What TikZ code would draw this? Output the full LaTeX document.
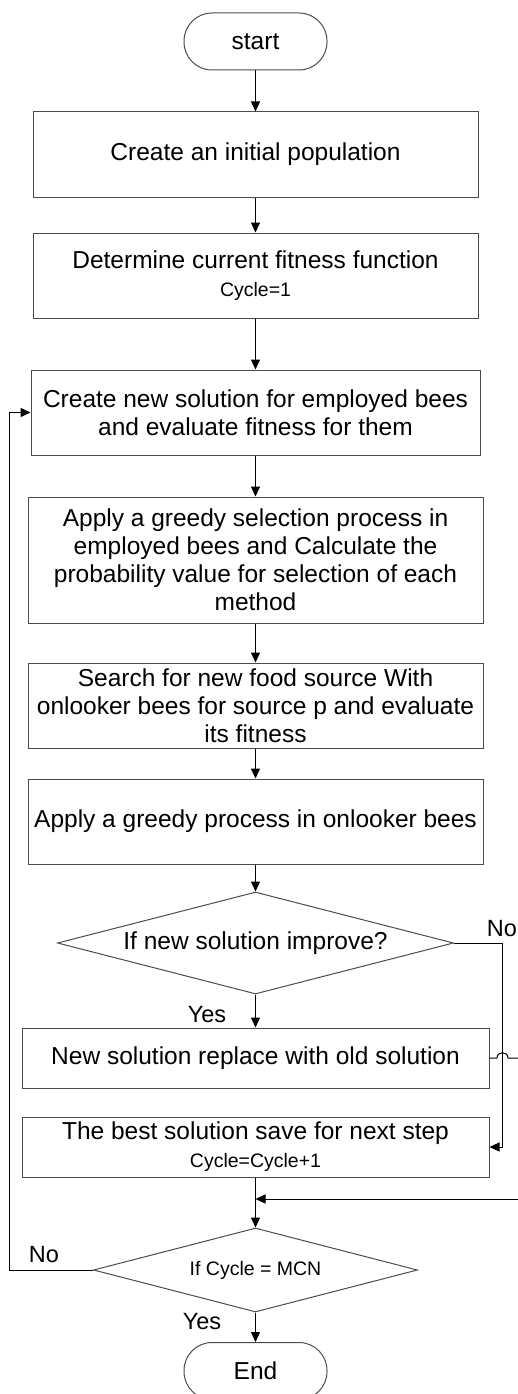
\documentclass[tikz,border=0pt]{standalone}
\usepackage{fontspec}
\setmainfont{Liberation Sans}
\usetikzlibrary{shapes.geometric,arrows.meta}
\newcommand{\smalltxt}{\fontsize{19.5}{23}\selectfont}

\begin{document}
\begin{tikzpicture}[x=1pt, y=-1pt, line width=1pt, >={Triangle[length=10pt,width=9pt]},
	every node/.style={font=\fontsize{24.5}{28}\selectfont},
	box/.style={draw=black!70, align=center, inner sep=2pt, minimum height=85pt},
	term/.style={draw=black!70, rounded corners=28pt, minimum width=143pt, minimum height=57pt},
	decision/.style={diamond, draw=black!70, inner sep=0pt},
	lbl/.style={font=\fontsize{23.5}{26}\selectfont, inner sep=0pt}]
	\useasboundingbox (0,0) rectangle (518,1394);
	\node[term] (start) at (255.5,41.5) {start};
	\node[box, minimum width=445pt] (b1) at (255.5,154.5) {Create an initial population};
	\node[box, minimum width=445pt] (b2) at (255.5,275.5) {Determine current fitness function\\ \smalltxt Cycle=1};
	\node[box, minimum width=449pt] (b3) at (255.5,412.5) {Create new solution for employed bees\\ and evaluate fitness for them};
	\node[box, minimum width=455pt, minimum height=126pt] (b4) at (255.5,560) {Apply a greedy selection process in\\ employed bees and Calculate the\\ probability value for selection of each\\ method};
	\node[box, minimum width=455pt] (b5) at (255.5,705.5) {Search for new food source With\\ onlooker bees for source p and evaluate\\ its fitness};
	\node[box, minimum width=455pt] (b6) at (255.5,821.5) {Apply a greedy process in onlooker bees};
	\node[decision, minimum width=396pt, minimum height=102pt, aspect=3.9] (d1) at (255.5,943) {If new solution improve?};
	\node[box, minimum width=467pt, minimum height=60pt] (b7) at (255.5,1058) {New solution replace with old solution};
	\node[box, minimum width=467pt, minimum height=60pt] (b8) at (255.5,1147) {The best solution save for next step\\ \smalltxt Cycle=Cycle+1};
	\node[decision, minimum width=324pt, minimum height=84pt, aspect=3.86, font=\smalltxt] (d2) at (255.5,1270) {If Cycle = MCN};
	\node[term] (stop) at (255.5,1371) {End};
	% straight arrows down the middle
	\foreach \a/\b in {start/b1, b1/b2, b2/b3, b3/b4, b4/b5, b5/b6, b6/d1, d1/b7, b8/d2, d2/stop}
		{
			\draw[->] (\a) -- (\b);
		}
	% labels
	\node[lbl] (no1) at (502,929) {No};
	\node[lbl] (yes1) at (207,1015) {Yes};
	\node[lbl] (no2) at (44,1255) {No};
	\node[lbl] (yes2) at (202,1322) {Yes};
	% branches
	\draw[->] (d1.east) -- ++(48.5,0) |- (b8.east);
	\draw[->] (d2.west) -- ++(-84,0) |- (b3.west);
	\coordinate (r1) at (518,1058);
	\coordinate (r2) at (518,1199);
	\draw (b7.east) -- (497,1058) .. controls (497,1051) and (508,1051) .. (508,1058) -- (r1);
	\draw[->] (r2) -- (r2 -| b8.south);
\end{tikzpicture}
\end{document}
